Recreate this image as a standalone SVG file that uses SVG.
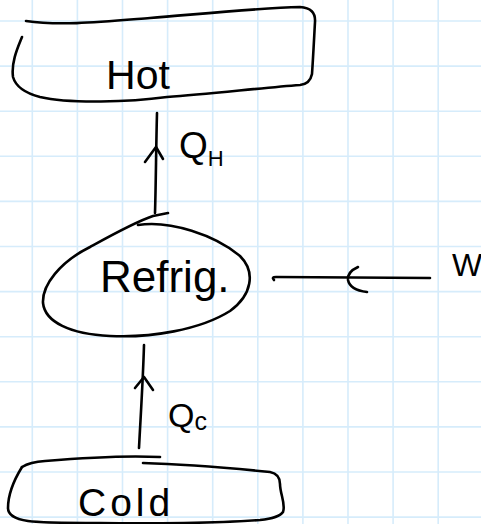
<svg xmlns="http://www.w3.org/2000/svg" width="481" height="524" viewBox="0 0 481 524">
<style>
.grid line{stroke:#d6ecfb;stroke-width:1.6}
.ink{fill:none;stroke:#000;stroke-width:2.6;stroke-linecap:round;stroke-linejoin:round}
.t{font-family:"Liberation Sans","DejaVu Sans",sans-serif;fill:#000}
</style>
<rect width="481" height="524" fill="#fff"/>
<g class="grid">
<line x1="32.3" y1="0" x2="32.3" y2="524"/><line x1="77.4" y1="0" x2="77.4" y2="524"/><line x1="122.5" y1="0" x2="122.5" y2="524"/><line x1="167.6" y1="0" x2="167.6" y2="524"/><line x1="212.7" y1="0" x2="212.7" y2="524"/><line x1="257.8" y1="0" x2="257.8" y2="524"/><line x1="302.9" y1="0" x2="302.9" y2="524"/><line x1="348" y1="0" x2="348" y2="524"/><line x1="393.1" y1="0" x2="393.1" y2="524"/><line x1="438.2" y1="0" x2="438.2" y2="524"/>
<line x1="0" y1="21" x2="481" y2="21"/><line x1="0" y1="66.1" x2="481" y2="66.1"/><line x1="0" y1="111.2" x2="481" y2="111.2"/><line x1="0" y1="156.3" x2="481" y2="156.3"/><line x1="0" y1="201.4" x2="481" y2="201.4"/><line x1="0" y1="246.5" x2="481" y2="246.5"/><line x1="0" y1="291.6" x2="481" y2="291.6"/><line x1="0" y1="336.7" x2="481" y2="336.7"/><line x1="0" y1="381.8" x2="481" y2="381.8"/><line x1="0" y1="426.9" x2="481" y2="426.9"/><line x1="0" y1="472" x2="481" y2="472"/><line x1="0" y1="517.1" x2="481" y2="517.1"/>
</g>
<g id="hot">
<path class="ink" d="M26,21 C60,26 100,22 150,18 C200,14 260,8 300,7 Q316,8 315,22 C314,40 313,60 312,74 Q310,84 300,85 C260,88 210,94 167,97 C130,102 70,104 40,97 Q17,91 13,77 C11,62 18,47 22,37"/>
<text class="t" x="138" y="89" font-size="41" text-anchor="middle">Hot</text>
</g>
<g id="refrig">
<path class="ink" d="M138,225 C170,220 215,235 240,256 C256,272 252,295 230,311 C200,330 150,338 110,336 C70,334 45,322 43,303 C42,285 60,262 90,247 C110,236 135,222 153,216 L168,213"/>
<text class="t" x="100" y="292" font-size="44">Refrig.</text>
</g>
<g id="cold">
<path class="ink" d="M22,467 Q30,462 45,461 C80,458 120,455 160,457"/>
<path class="ink" d="M143,463 C180,464 230,468 270,472 Q280,474 280,484 C280,494 286,504 283,512 Q279,518 260,520 C220,523 150,524 100,523 C70,523 40,523 28,521 Q8,518 8,508 C8,495 14,480 22,467"/>
<text class="t" x="78" y="516" font-size="39" letter-spacing="4">Cold</text>
</g>
<g id="w-label">
<text class="t" x="452" y="276" font-size="32">W</text>
</g>
<g id="connectors">
<path class="ink" d="M155,213 C156,180 156,150 157,113"/>
<path class="ink" d="M145,162 L156,147 L163,159"/>
<text class="t" x="179" y="158" font-size="37">Q<tspan font-size="22" dy="8">H</tspan></text>
<path class="ink" d="M274,280 Q271,277 276,277 L430,278"/>
<path class="ink" d="M358,267 Q347,272 348,280 Q350,290 367,292"/>
<path class="ink" d="M139,448 C141,410 143,380 144,345"/>
<path class="ink" d="M135,388 L144,377 L153,390"/>
<text class="t" x="168" y="427" font-size="34">Q<tspan font-size="25" dy="3">c</tspan></text>
</g>
</svg>
